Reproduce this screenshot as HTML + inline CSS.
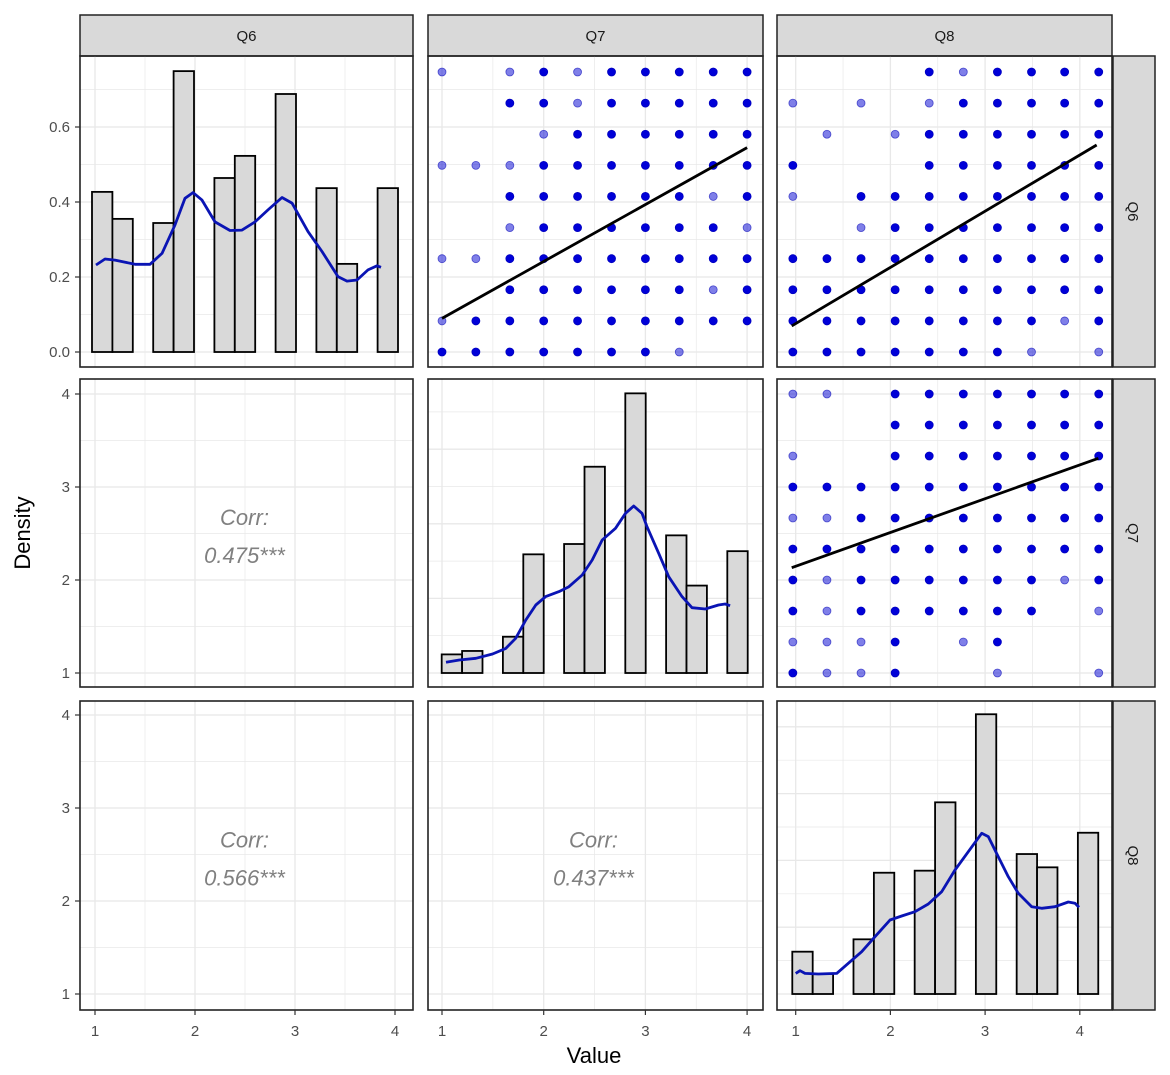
<!DOCTYPE html>
<html><head><meta charset="utf-8"><style>
html,body{margin:0;padding:0;background:#fff;}
svg{display:block;font-family:"Liberation Sans",sans-serif;}
</style></head><body>
<svg id="chart" width="1170" height="1075" viewBox="0 0 1170 1075" xmlns="http://www.w3.org/2000/svg"></svg>
<script>
// ---------- data ----------
const varNames = ["Q6","Q7","Q8"];
const q6HistDensity = [0.427,0.355,0,0.344,0.749,0,0.464,0.523,0,0.688,0,0.437,0.235,0,0.437];
const q7HistDensity = [1.20,1.237,0,1.39,2.276,0,2.387,3.218,0,4.007,0,2.48,1.94,0,2.31];
const q8HistDensity = [1.455,1.215,0,1.588,2.304,0,2.326,3.061,0,4.008,0,2.505,2.362,0,2.734];
const binStart = [0.97, 0.997, 0.964];
const binWidth = [0.204, 0.2006, 0.2154];
const q6CurveX = [1.01,1.10,1.20,1.40,1.55,1.67,1.80,1.90,1.98,2.07,2.20,2.35,2.47,2.60,2.73,2.87,2.97,3.13,3.27,3.43,3.52,3.62,3.73,3.82,3.86];
const q6CurveY = [0.232,0.248,0.245,0.234,0.234,0.263,0.339,0.410,0.425,0.405,0.347,0.324,0.325,0.347,0.379,0.412,0.397,0.321,0.268,0.201,0.189,0.192,0.219,0.230,0.226];
const q7CurveX = [1.039,1.170,1.333,1.497,1.627,1.725,1.824,1.922,2.020,2.150,2.248,2.379,2.477,2.575,2.706,2.804,2.885,2.967,3.016,3.131,3.229,3.360,3.458,3.588,3.719,3.784,3.833];
const q7CurveY = [1.115,1.140,1.158,1.204,1.265,1.373,1.570,1.731,1.821,1.875,1.928,2.054,2.215,2.430,2.556,2.717,2.796,2.717,2.573,2.287,2.035,1.821,1.702,1.688,1.731,1.742,1.724];
const q8CurveX = [1.00,1.045,1.098,1.239,1.433,1.555,1.697,1.837,1.996,2.119,2.260,2.400,2.542,2.682,2.823,2.964,3.034,3.139,3.245,3.351,3.492,3.598,3.738,3.879,3.949,3.992];
const q8CurveY = [1.222,1.251,1.222,1.215,1.222,1.330,1.455,1.616,1.796,1.839,1.885,1.968,2.100,2.333,2.530,2.728,2.692,2.476,2.261,2.083,1.939,1.921,1.939,1.989,1.975,1.932];
const q6Levels = [1,1.333,1.667,2,2.333,2.667,3,3.333,3.667,4];
const q7Levels = [1,1.333,1.667,2,2.333,2.667,3,3.333,3.667,4];
const q8Levels = [0.97,1.33,1.69,2.05,2.41,2.77,3.13,3.49,3.84,4.2];
// point presence grids, rows from top (highest y level) to bottom; 0 none, 1 sparse, 2 dense
const gridQ7Q6 = [[1,0,1,2,1,2,2,2,2,2],[0,0,2,2,1,2,2,2,2,2],[0,0,0,1,2,2,2,2,2,2],[1,1,1,2,2,2,2,2,2,2],[0,0,2,2,2,2,2,2,1,2],[0,0,1,2,2,2,2,2,2,1],[1,1,2,2,2,2,2,2,2,2],[0,0,2,2,2,2,2,2,1,2],[1,2,2,2,2,2,2,2,2,2],[2,2,2,2,2,2,2,1,0,0]];
const gridQ8Q6 = [[0,0,0,0,2,1,2,2,2,2],[1,0,1,0,1,2,2,2,2,2],[0,1,0,1,2,2,2,2,2,2],[2,0,0,0,2,2,2,2,2,2],[1,0,2,2,2,2,2,2,2,2],[0,0,1,2,2,2,2,2,2,2],[2,2,2,2,2,2,2,2,2,2],[2,2,2,2,2,2,2,2,2,2],[2,2,2,2,2,2,2,2,1,2],[2,2,2,2,2,2,2,1,0,1]];
const gridQ8Q7 = [[1,1,0,2,2,2,2,2,2,2],[0,0,0,2,2,2,2,2,2,2],[1,0,0,2,2,2,2,2,2,2],[2,2,2,2,2,2,2,2,2,2],[1,1,2,2,2,2,2,2,2,2],[2,2,2,2,2,2,2,2,2,2],[2,1,2,2,2,2,2,2,1,2],[2,1,2,2,2,2,2,2,0,1],[1,1,1,2,0,1,2,0,0,0],[2,1,1,2,0,0,1,0,0,1]];
const fitQ7Q6X = [1.0, 4.0];   const fitQ7Q6Y = [1.36, 3.19];
const fitQ8Q6X = [0.958, 4.178]; const fitQ8Q6Y = [1.279, 3.218];
const fitQ8Q7X = [0.958, 4.196]; const fitQ8Q7Y = [2.132, 3.309];
const corrValues = ["0.475***","0.566***","0.437***"];
const xTickLabels = ["1","2","3","4"];
const row1TickLabels = ["0.0","0.2","0.4","0.6"];
const row1TickValues = [0,0.2,0.4,0.6];
const valueTickValues = [1,2,3,4];

// ---------- layout & scales ----------
const NS = "http://www.w3.org/2000/svg";
const svg = document.getElementById("chart");
const colBox = [[80,413],[428,763],[777,1112]];
const rowBox = [[56,367],[379,687],[701,1010]];
const xs = [v=>95+(v-1)*100, v=>442+(v-1)*101.7, v=>795.7+(v-1)*94.7];
const yDens = d=>352-d*375;
const yVal = [v=>352-(v-1)*93.33, v=>673-(v-1)*93, v=>994-(v-1)*93];
function mk(tag, attrs, parent){const e=document.createElementNS(NS,tag);for(const k in attrs)e.setAttribute(k,attrs[k]);(parent||svg).appendChild(e);return e;}
let el;

// top strips
for(let c=0;c<3;c++){
  el = mk("rect",{x:colBox[c][0],y:15,width:colBox[c][1]-colBox[c][0],height:41,fill:"#d9d9d9",stroke:"#222",'stroke-width':1.5});
  
  
  el = mk("text",{x:(colBox[c][0]+colBox[c][1])/2,y:41,'text-anchor':'middle','font-size':15,fill:"#1a1a1a"});
  el.textContent = varNames[c];
  
  
}
// right strips
for(let r=0;r<3;r++){
  el = mk("rect",{x:1113,y:rowBox[r][0],width:42,height:rowBox[r][1]-rowBox[r][0],fill:"#d9d9d9",stroke:"#222",'stroke-width':1.5});
  
  
  const cy=(rowBox[r][0]+rowBox[r][1])/2;
  el = mk("text",{x:1128,y:cy,'text-anchor':'middle','font-size':15,fill:"#1a1a1a",transform:`rotate(90 1128 ${cy})`});
  el.textContent = varNames[r];
  
  
}

function line(x1,y1,x2,y2,col,w,name){
  el = mk("line",{x1,y1,x2,y2,stroke:col,'stroke-width':w});
  
  
  return el;
}

// panels grids
for(let r=0;r<3;r++)for(let c=0;c<3;c++){
  const [x0,x1]=colBox[c],[y0,y1]=rowBox[r];
  for(let v=1;v<=4;v+=0.5){const px=xs[c](v);line(px,y0,px,y1,"#e8e8e8",v%1===0?1.3:0.7,'grid-vertical');}
  let hs=[];
  if(r===0){for(let k=0;k<8;k++)hs.push(yDens(k*0.1));}
  else if(r===c){const base=rowBox[r][1]-(r===1?14:16);const step=r===1?37.3:33.4;for(let k=0;k<8+(r===2?1:0);k++)hs.push(base-k*step);}
  else{for(let v=1;v<=4;v+=0.5)hs.push(yVal[r](v));}
  hs.forEach((py,i)=>{if(py>y0&&py<y1)line(x0,py,x1,py,"#e8e8e8",i%2===0?1.3:0.7,'grid-horizontal');});
}

// histograms + density curves
const histData=[q6HistDensity,q7HistDensity,q8HistDensity];
const curveX=[q6CurveX,q7CurveX,q8CurveX], curveY=[q6CurveY,q7CurveY,q8CurveY];
for(let i=0;i<3;i++){
  const ys = i===0?yDens:yVal[i];
  const base = i===0?yDens(0):yVal[i](1);
  histData[i].forEach((h,b)=>{
    if(h<=0)return;
    const xa=xs[i](binStart[i]+b*binWidth[i]), xb=xs[i](binStart[i]+(b+1)*binWidth[i]);
    const top = ys(h);
    el = mk("rect",{x:xa,y:top,width:xb-xa,height:base-top,fill:"#d9d9d9",stroke:"#000",'stroke-width':1.8});
    
    
  });
  const pts=curveX[i].map((x,k)=>xs[i](x).toFixed(1)+","+ys(curveY[i][k]).toFixed(1)).join(" ");
  el = mk("polyline",{points:pts,fill:"none",stroke:"#0a14b4",'stroke-width':2.8,'stroke-linejoin':'round'});
  
  
}

// scatter panels
const levels=[q6Levels,q7Levels,q8Levels];
const scat=[{r:0,c:1,g:gridQ7Q6,fx:fitQ7Q6X,fy:fitQ7Q6Y},{r:0,c:2,g:gridQ8Q6,fx:fitQ8Q6X,fy:fitQ8Q6Y},{r:1,c:2,g:gridQ8Q7,fx:fitQ8Q7X,fy:fitQ8Q7Y}];
scat.forEach(s=>{
  const yl=levels[s.r], xl=levels[s.c];
  s.g.forEach((row,ri)=>{
    row.forEach((v,ci)=>{
      if(!v)return;
      el = mk("circle",{cx:xs[s.c](xl[ci]),cy:yVal[s.r](yl[9-ri]),r:4,fill:v===2?"#0000d8":"rgba(0,0,210,0.5)",stroke:v===2?"#0000c0":"rgba(0,0,180,0.6)",'stroke-width':0.8});
      
      
    });
  });
  el = mk("line",{x1:xs[s.c](s.fx[0]),y1:yVal[s.r](s.fy[0]),x2:xs[s.c](s.fx[1]),y2:yVal[s.r](s.fy[1]),stroke:"#000",'stroke-width':2.8});
  
  
});

// correlation text
const corrPos=[[1,0],[2,0],[2,1]];
corrPos.forEach(([r,c],i)=>{
  const cx=(colBox[c][0]+colBox[c][1])/2-2, cy=(rowBox[r][0]+rowBox[r][1])/2;
  el = mk("text",{x:cx,y:cy-8,'text-anchor':'middle','font-size':22,'font-style':'italic',fill:"#808080"});
  el.textContent="Corr:";
  
  
  el = mk("text",{x:cx,y:cy+30,'text-anchor':'middle','font-size':22,'font-style':'italic',fill:"#808080"});
  el.textContent=corrValues[i];
  
  
});

// panel borders
for(let r=0;r<3;r++)for(let c=0;c<3;c++){
  el = mk("rect",{x:colBox[c][0],y:rowBox[r][0],width:colBox[c][1]-colBox[c][0],height:rowBox[r][1]-rowBox[r][0],fill:"none",stroke:"#222",'stroke-width':1.6});
  
  
}

// y axis ticks
row1TickValues.forEach((v,i)=>{
  const py=yDens(v);
  line(75,py,80,py,"#333",1.2,'y-tick');
  el = mk("text",{x:70,y:py+5,'text-anchor':'end','font-size':15,fill:"#4d4d4d"});
  el.textContent=row1TickLabels[i];
  
  
});
for(let r=1;r<3;r++)valueTickValues.forEach((v,i)=>{
  const py=yVal[r](v);
  line(75,py,80,py,"#333",1.2,'y-tick');
  el = mk("text",{x:70,y:py+5,'text-anchor':'end','font-size':15,fill:"#4d4d4d"});
  el.textContent=xTickLabels[i];
  
  
});
// x axis ticks
for(let c=0;c<3;c++)valueTickValues.forEach((v,i)=>{
  const px=xs[c](v);
  line(px,1010,px,1015,"#333",1.2,'x-tick');
  el = mk("text",{x:px,y:1036,'text-anchor':'middle','font-size':15,fill:"#4d4d4d"});
  el.textContent=xTickLabels[i];
  
  
});
// axis titles
el = mk("text",{x:594,y:1063,'text-anchor':'middle','font-size':22,fill:"#000"});
el.textContent="Value";


el = mk("text",{x:30,y:533,'text-anchor':'middle','font-size':22,fill:"#000",transform:"rotate(-90 30 533)"});
el.textContent="Density";


</script>
</body></html>
